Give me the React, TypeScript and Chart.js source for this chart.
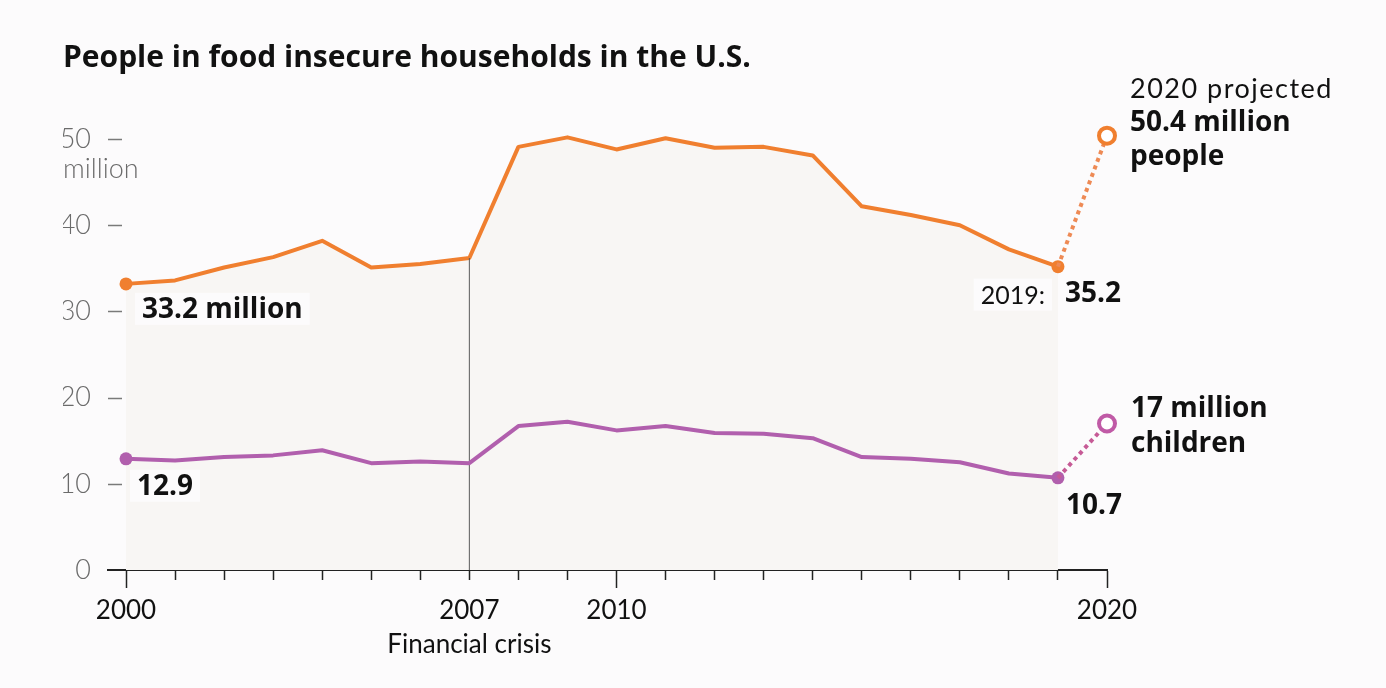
import { useEffect, useRef } from 'react';
import { Chart, registerables } from 'chart.js';

Chart.register(...registerables);

// ---------- data ----------
const years = [2000, 2001, 2002, 2003, 2004, 2005, 2006, 2007, 2008, 2009, 2010, 2011, 2012, 2013, 2014, 2015, 2016, 2017, 2018, 2019];
const peopleMillions = [33.2, 33.6, 35.1, 36.3, 38.2, 35.1, 35.5, 36.2, 49.1, 50.2, 48.8, 50.1, 49.0, 49.1, 48.1, 42.2, 41.2, 40.0, 37.2, 35.2];
const childrenMillions = [12.9, 12.7, 13.1, 13.3, 13.9, 12.4, 12.6, 12.4, 16.7, 17.2, 16.2, 16.7, 15.9, 15.8, 15.3, 13.1, 12.9, 12.5, 11.2, 10.7];
const projectedYear = 2020;
const projectedPeople = 50.4;
const projectedChildren = 17;
const crisisYear = 2007;
const crisisLabel = 'Financial crisis';
const xTickYears = [2000, 2001, 2002, 2003, 2004, 2005, 2006, 2007, 2008, 2009, 2010, 2011, 2012, 2013, 2014, 2015, 2016, 2017, 2018, 2019, 2020];
const labeledYears = [2000, 2007, 2010, 2020];
const majorTickYears = [2000, 2010, 2020];
const yTickValues = [0, 10, 20, 30, 40, 50];
const yUnitLabel = 'million';
const title = 'People in food insecure households in the U.S.';

// ---------- styles ----------
const BG = '#fcfbfc';
const FILL = '#f8f6f4';
const ORANGE = '#f07f2f';
const ORANGE_DOT = '#ee8a55';
const PURPLE = '#b15fad';
const PURPLE_DOT = '#c65a96';
const SANS = 'Lato, "Open Sans", sans-serif';
const BOLD = '"Open Sans", Lato, sans-serif';

type Line = { text: string; bold: boolean; light?: boolean };
type Ann = { x: number; y: number; dx: number; dy: number; align: CanvasTextAlign; lines: Line[]; lh?: number; box?: boolean };

const last = years.length - 1;
const annotations: Ann[] = [
  { x: years[0], y: peopleMillions[0], dx: 16, dy: 26, align: 'left', box: true, lines: [{ text: `${peopleMillions[0]} million`, bold: true }] },
  { x: years[0], y: childrenMillions[0], dx: 11, dy: 28, align: 'left', box: true, lines: [{ text: `${childrenMillions[0]}`, bold: true }] },
  { x: years[last], y: peopleMillions[last], dx: -13, dy: 29, align: 'right', box: true, lines: [{ text: `${years[last]}:`, bold: false }] },
  { x: years[last], y: peopleMillions[last], dx: 7, dy: 27, align: 'left', lines: [{ text: peopleMillions[last].toFixed(1), bold: true }] },
  { x: years[last], y: childrenMillions[last], dx: 8, dy: 28, align: 'left', lines: [{ text: childrenMillions[last].toFixed(1), bold: true }] },
  {
    x: projectedYear, y: projectedPeople, dx: 23, dy: -46, align: 'left', lh: 33.5,
    lines: [
      { text: `${projectedYear} projected`, bold: false, light: true },
      { text: `${projectedPeople} million`, bold: true },
      { text: 'people', bold: true },
    ],
  },
  {
    x: projectedYear, y: projectedChildren, dx: 24, dy: -14, align: 'left', lh: 35,
    lines: [
      { text: `${projectedChildren} million`, bold: true },
      { text: 'children', bold: true },
    ],
  },
];

const fontFor = (l: Line) => (l.bold ? `700 28px ${BOLD}` : l.light ? `400 27px ${SANS}` : `400 25px ${SANS}`);

const overlayPlugin = {
  id: 'overlay',
  beforeDatasetsDraw(chart: any) {
    const { ctx, scales } = chart;
    ctx.save();
    ctx.fillStyle = BG;
    for (const a of annotations) {
      if (!a.box) continue;
      const px = scales.x.getPixelForValue(a.x) + a.dx;
      const py = scales.y.getPixelForValue(a.y) + a.dy;
      let w = 0;
      for (const l of a.lines) {
        ctx.font = fontFor(l);
        w = Math.max(w, ctx.measureText(l.text).width);
      }
      const x0 = a.align === 'right' ? px - w : px;
      ctx.fillRect(x0 - 7, py - 17, w + 14, 32);
    }
    ctx.restore();
  },
  afterDatasetsDraw(chart: any) {
    const { ctx, scales } = chart;
    ctx.save();
    ctx.fillStyle = '#111';
    ctx.textBaseline = 'middle';
    for (const a of annotations) {
      const px = scales.x.getPixelForValue(a.x) + a.dx;
      const py = scales.y.getPixelForValue(a.y) + a.dy;
      ctx.textAlign = a.align;
      a.lines.forEach((l, i) => {
        ctx.font = fontFor(l);
        (ctx as any).letterSpacing = l.light ? '1.5px' : '0px';
        ctx.fillText(l.text, px, py + i * (a.lh ?? 34));
      });
    }
    (ctx as any).letterSpacing = '0px';
    ctx.restore();
  },
  afterDraw(chart: any) {
    const { ctx, scales, chartArea } = chart;
    const y = scales.y;
    ctx.save();
    ctx.strokeStyle = '#7a7a7a';
    ctx.lineWidth = 1.5;
    for (const t of y.ticks) {
      if (t.value === 0) continue;
      const py = Math.round(y.getPixelForValue(t.value)) + 0.5;
      ctx.beginPath();
      ctx.moveTo(chartArea.left, py);
      ctx.lineTo(chartArea.left + 14, py);
      ctx.stroke();
    }
    ctx.fillStyle = '#6b6b6b';
    ctx.font = `300 27px ${SANS}`;
    ctx.textAlign = 'left';
    ctx.textBaseline = 'middle';
    ctx.fillText(yUnitLabel, y.left, y.getPixelForValue(yTickValues[yTickValues.length - 1]) + 30);
    ctx.restore();
  },
};

export default function App() {
  const ref = useRef<HTMLCanvasElement>(null);
  useEffect(() => {
    document.documentElement.style.background = BG;
    document.body.style.background = BG;
    const chart = new Chart(ref.current as HTMLCanvasElement, {
      type: 'line',
      data: {
        datasets: [
          {
            label: 'People',
            data: years.map((yr, i) => ({ x: yr, y: peopleMillions[i] })),
            borderColor: ORANGE,
            borderWidth: 4,
            borderJoinStyle: 'round',
            fill: 'origin',
            backgroundColor: FILL,
            pointRadius: (c: any) => (c.dataIndex === 0 || c.dataIndex === last ? 6.5 : 0),
            pointBackgroundColor: ORANGE,
            pointBorderWidth: 0,
            tension: 0,
            clip: false,
            order: 5,
          },
          {
            label: 'Children',
            data: years.map((yr, i) => ({ x: yr, y: childrenMillions[i] })),
            borderColor: PURPLE,
            borderWidth: 4,
            borderJoinStyle: 'round',
            fill: false,
            pointRadius: (c: any) => (c.dataIndex === 0 || c.dataIndex === last ? 6.5 : 0),
            pointBackgroundColor: PURPLE,
            pointBorderWidth: 0,
            tension: 0,
            clip: false,
            order: 3,
          },
          {
            label: 'Crisis',
            data: [{ x: crisisYear, y: 0 }, { x: crisisYear, y: peopleMillions[years.indexOf(crisisYear)] }],
            borderColor: '#5a5a5a',
            borderWidth: 1,
            pointRadius: 0,
            fill: false,
            order: 4,
          },
          {
            label: 'People projected',
            data: [{ x: years[last], y: peopleMillions[last] }, { x: projectedYear, y: projectedPeople }],
            borderColor: ORANGE_DOT,
            borderWidth: 4,
            borderDash: [4, 4],
            fill: false,
            pointRadius: [0, 8],
            pointBorderWidth: 4,
            pointBorderColor: ORANGE,
            pointBackgroundColor: '#ffffff',
            clip: false,
            order: 1,
          },
          {
            label: 'Children projected',
            data: [{ x: years[last], y: childrenMillions[last] }, { x: projectedYear, y: projectedChildren }],
            borderColor: PURPLE_DOT,
            borderWidth: 4,
            borderDash: [4, 4],
            fill: false,
            pointRadius: [0, 8],
            pointBorderWidth: 4,
            pointBorderColor: '#c05aa6',
            pointBackgroundColor: '#ffffff',
            clip: false,
            order: 0,
          },
        ],
      },
      options: {
        responsive: false,
        animation: false,
        events: [],
        layout: { padding: { left: 55, right: 271, top: 0, bottom: 0 } },
        plugins: {
          legend: { display: false },
          tooltip: { enabled: false },
          filler: { drawTime: 'beforeDatasetsDraw' },
          title: {
            display: true,
            text: title,
            align: 'start',
            color: '#111',
            font: { family: BOLD, weight: 'bold', size: 30 },
            padding: { top: 32, bottom: 20 },
          },
        },
        scales: {
          x: {
            type: 'linear',
            min: 1999.633,
            max: projectedYear,
            afterBuildTicks: (s: any) => {
              s.ticks = xTickYears.map((v) => ({ value: v }));
            },
            afterFit: (s: any) => {
              s.height = 110;
            },
            border: { display: true, color: '#222', width: 2 },
            grid: {
              drawOnChartArea: false,
              drawTicks: true,
              tickLength: 18,
              tickWidth: 1.5,
              tickColor: '#222',
              tickBorderDash: (c: any) => (c.tick && majorTickYears.includes(c.tick.value) ? [] : [9, 30]),
            },
            ticks: {
              autoSkip: false,
              maxRotation: 0,
              padding: 6,
              color: '#111',
              font: { family: SANS, size: 26, lineHeight: 1.3 },
              callback: (v: any) => {
                const n = Number(v);
                if (!labeledYears.includes(n)) return '';
                return n === crisisYear ? [String(n), crisisLabel] : String(n);
              },
            },
          },
          y: {
            type: 'linear',
            min: 0,
            max: 55,
            afterBuildTicks: (s: any) => {
              s.ticks = yTickValues.map((v) => ({ value: v }));
            },
            afterFit: (s: any) => {
              s.width = 45;
            },
            border: { display: false },
            grid: { display: false, drawTicks: false },
            ticks: {
              padding: 17,
              color: '#6b6b6b',
              font: { family: SANS, size: 27, weight: '300' },
              callback: (v: any) => String(v),
            },
          },
        },
      },
      plugins: [overlayPlugin],
    } as any);
    return () => chart.destroy();
  }, []);
  return (
    <div style={{ width: 1370, height: 672 }}>
      <canvas ref={ref} width={1370} height={672} style={{ display: 'block' }} />
    </div>
  );
}
